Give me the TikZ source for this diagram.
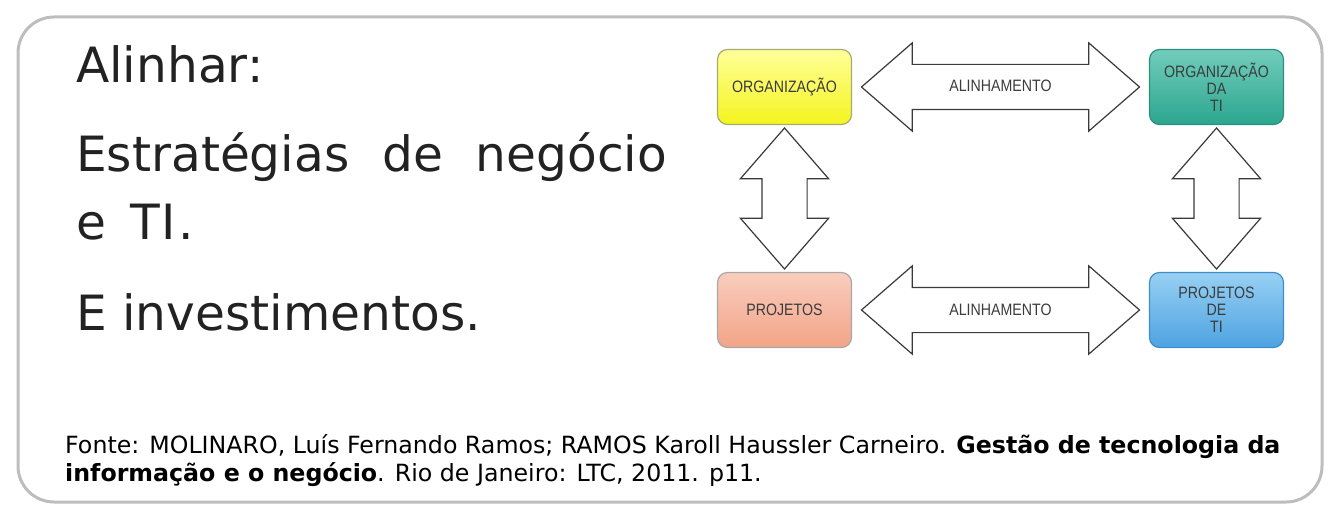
\documentclass[tikz,border=0pt]{standalone}
\usepackage{fontspec}
\setmainfont{DejaVu Sans}
\newfontfamily\diagfont[FakeStretch=0.86]{Liberation Sans}
\usetikzlibrary{calc,positioning,shapes.arrows}

\definecolor{framegray}{HTML}{BDBDBD}
\definecolor{titletext}{HTML}{222222}
\definecolor{boxtext}{HTML}{3C3C3C}
\definecolor{arrline}{HTML}{3A3A3A}
\definecolor{yeltop}{HTML}{FFFF9A}
\definecolor{yelbot}{HTML}{F4F41E}
\definecolor{yeldraw}{HTML}{A3AE6C}
\definecolor{tealtop}{HTML}{72CDBC}
\definecolor{tealbot}{HTML}{2BA68F}
\definecolor{tealdraw}{HTML}{2E8E7E}
\definecolor{saltop}{HTML}{F9CDBE}
\definecolor{salbot}{HTML}{F2A487}
\definecolor{saldraw}{HTML}{A8A8A8}
\definecolor{bluetop}{HTML}{98D0F3}
\definecolor{bluebot}{HTML}{4DA3E2}
\definecolor{bluedraw}{HTML}{3F8CC9}

\begin{document}
\begin{tikzpicture}[
  x=1pt, y=-1pt,
  box/.style={rectangle, rounded corners=10pt, align=center, minimum width=134pt, minimum height=75pt, line width=1.2pt, text=boxtext, font=\diagfont\fontsize{16.5}{17}\selectfont},
  dblarr/.style={double arrow, draw=arrline, fill=white, line width=1.2pt, double arrow head extend=21.5pt, double arrow tip angle=82, inner sep=0pt, text height=27pt, text depth=17pt, text=boxtext, font=\diagfont\fontsize{16.5}{17}\selectfont},
  title/.style={anchor=base west, inner sep=0pt, text=titletext, font=\fontsize{48.6}{58}\selectfont},
  fonte/.style={anchor=base west, inner sep=0pt, text=black, font=\fontsize{23.7}{28}\selectfont}
]
\useasboundingbox (0,0) rectangle (1329,521);
\draw[framegray, line width=3pt, rounded corners=36pt] (18,17) rectangle (1322,502);

% texto da esquerda
\node[title] (alinhar) at (76,83) {Alinhar:};
\node[title] (estrat) at (76,172) {\makebox[591pt][s]{Estratégias de negócio}};
\node[title] (eti) at (76,240) {e\hspace{0.5em}T\hspace{0.04em}I\hspace{0.04em}.};
\node[title] (invest) at (76,330) {E investimentos.};

% caixas
\node[box, draw=yeldraw, top color=yeltop, bottom color=yelbot] (org) at (784.5,87) {ORGANIZAÇÃO};
\node[box, draw=tealdraw, top color=tealtop, bottom color=tealbot] (orgti) at (1216.5,87) {ORGANIZAÇÃO\\DA\\TI};
\node[box, draw=saldraw, top color=saltop, bottom color=salbot] (proj) at (784.5,310) {PROJETOS};
\node[box, draw=bluedraw, top color=bluetop, bottom color=bluebot] (projti) at (1216.5,310) {PROJETOS\\DE\\TI};

% setas de alinhamento
\node[dblarr, minimum height=278pt] (alin1) at ($(org.east)!0.5!(orgti.west)$) {ALINHAMENTO};
\node[dblarr, minimum height=278pt] (alin2) at ($(proj.east)!0.5!(projti.west)$) {ALINHAMENTO};
\node[dblarr, rotate=90, minimum height=141pt] (vert1) at ($(org.south)!0.5!(proj.north)$) {};
\node[dblarr, rotate=90, minimum height=141pt] (vert2) at ($(orgti.south)!0.5!(projti.north)$) {};

% fonte
\node[fonte] (fonte1) at (65,453) {Fonte: MOLINARO, Luís Fernando Ramos; RAMOS Karoll Haussler Carneiro. \textbf{Gestão de tecnologia da}};
\node[fonte] (fonte2) at (65,481) {\textbf{informação e o negócio}. Rio de Janeiro: LTC, 2011. p11.};
\end{tikzpicture}
\end{document}
